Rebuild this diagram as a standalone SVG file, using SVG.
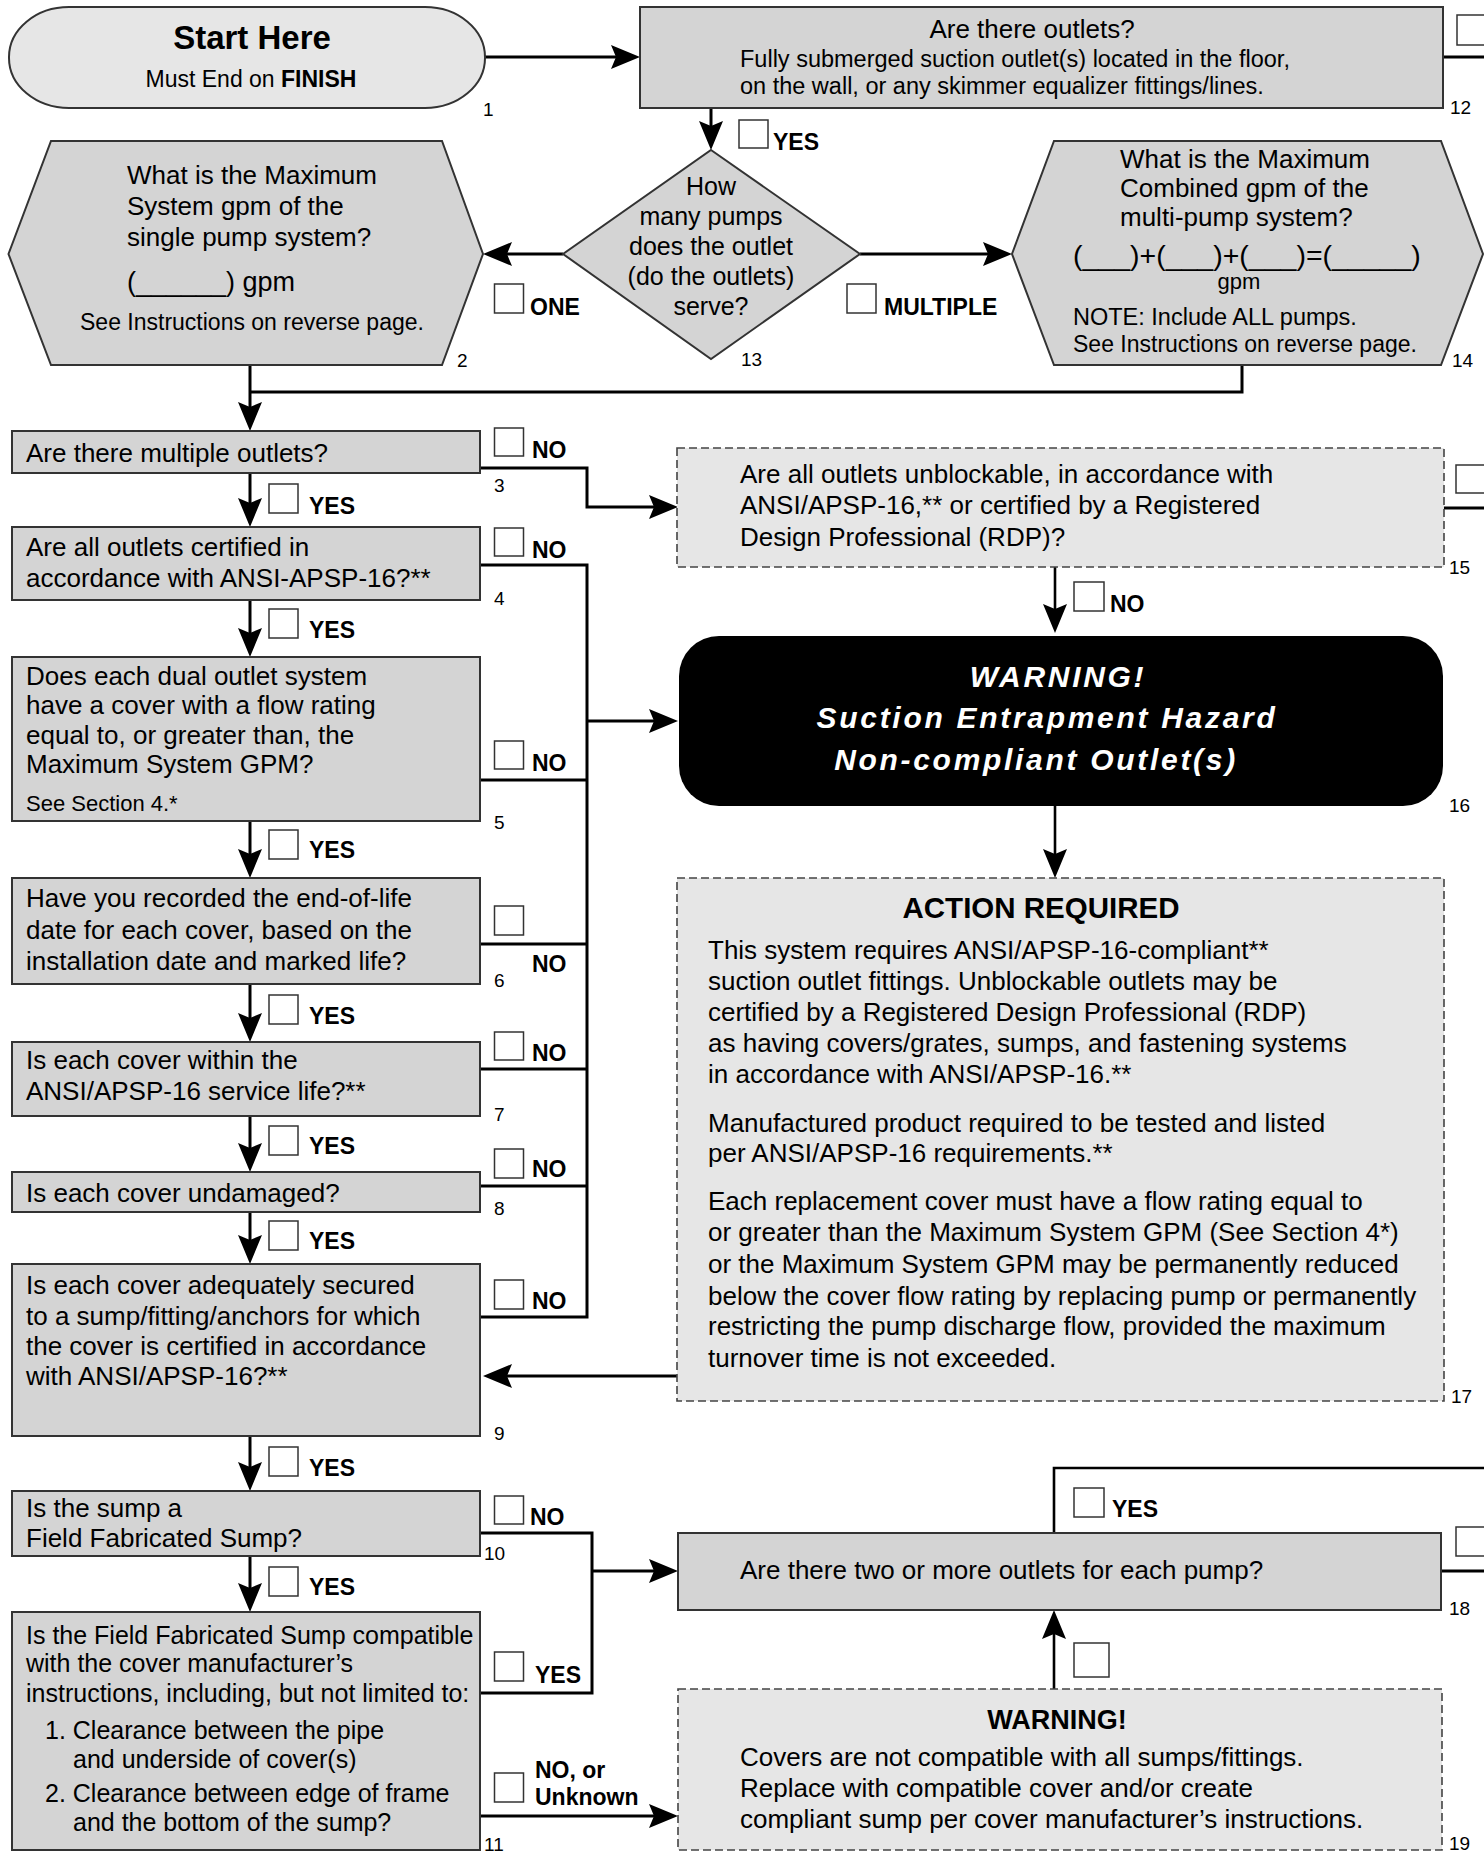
<svg xmlns="http://www.w3.org/2000/svg" width="1484" height="1852" viewBox="0 0 1484 1852">
<defs>
<marker id="ah" markerUnits="userSpaceOnUse" markerWidth="30" markerHeight="24" refX="24" refY="12" orient="auto"><path d="M0,0 L29,12 L0,24 L5,12 Z" fill="#000"/></marker>
<style>
.box{fill:#d4d4d4;stroke:#333;stroke-width:2}
.light{fill:#e6e6e6;stroke:#444;stroke-width:1.6;stroke-dasharray:8 4}
.cb{fill:#fff;stroke:#333;stroke-width:1.5}
text{font-family:"Liberation Sans",Arial,Helvetica,sans-serif;fill:#000}
.t{font-size:26px}
.t25{font-size:25px}
.s{font-size:23.5px}
.lbl{font-size:23px;font-weight:bold}
.num{font-size:19px}
.conn{fill:none;stroke:#000;stroke-width:3}
.thin{fill:none;stroke:#000;stroke-width:2.6}
.wt{fill:#fff;font-weight:bold;font-style:italic;font-size:30px;letter-spacing:2.7px}
</style>
</defs>
<rect width="1484" height="1852" fill="#fff"/>

<g id="connectors">
<path class="conn" d="M485,57 H635" marker-end="url(#ah)"/>
<path class="conn" d="M1443,57 H1484"/>
<path class="conn" d="M711,108 V145" marker-end="url(#ah)"/>
<path class="conn" d="M563,254 H488" marker-end="url(#ah)"/>
<path class="conn" d="M860,254 H1007" marker-end="url(#ah)"/>
<path class="conn" d="M1242,365 V392 H250"/>
<path class="conn" d="M250,365 V426" marker-end="url(#ah)"/>
<path class="conn" d="M250,473 V522" marker-end="url(#ah)"/>
<path class="conn" d="M480,468 H587 V507 H673" marker-end="url(#ah)"/>
<path class="conn" d="M480,565 H587 V1317 H480"/>
<path class="conn" d="M480,780 H587"/>
<path class="conn" d="M480,944 H587"/>
<path class="conn" d="M480,1069 H587"/>
<path class="conn" d="M480,1186 H587"/>
<path class="conn" d="M587,721 H673" marker-end="url(#ah)"/>
<path class="conn" d="M250,600 V652" marker-end="url(#ah)"/>
<path class="conn" d="M250,821 V873" marker-end="url(#ah)"/>
<path class="conn" d="M250,984 V1037" marker-end="url(#ah)"/>
<path class="conn" d="M250,1116 V1167" marker-end="url(#ah)"/>
<path class="conn" d="M250,1212 V1259" marker-end="url(#ah)"/>
<path class="conn" d="M250,1436 V1486" marker-end="url(#ah)"/>
<path class="conn" d="M250,1556 V1607" marker-end="url(#ah)"/>
<path class="conn" d="M480,1533 H592 V1693 H480"/>
<path class="conn" d="M592,1571 H673" marker-end="url(#ah)"/>
<path class="conn" d="M480,1816 H673" marker-end="url(#ah)"/>
<path class="conn" d="M1444,508 H1484"/>
<path class="thin" d="M1055,567 V628" marker-end="url(#ah)"/>
<path class="thin" d="M1055,806 V873" marker-end="url(#ah)"/>
<path class="conn" d="M677,1376 H488" marker-end="url(#ah)"/>
<path class="thin" d="M1054,1533 V1468 H1484"/>
<path class="conn" d="M1441,1571 H1484"/>
<path class="thin" d="M1054,1689 V1615" marker-end="url(#ah)"/>
</g>

<g id="branch-labels">
<rect class="cb" x="739" y="120" width="29" height="28"/><text class="lbl" x="773" y="150">YES</text>
<rect class="cb" x="1457" y="15" width="30" height="30"/>
<rect class="cb" x="494.5" y="284" width="29" height="29"/><text class="lbl" x="530" y="315">ONE</text>
<rect class="cb" x="847" y="284" width="29" height="29"/><text class="lbl" x="884" y="315">MULTIPLE</text>
<rect class="cb" x="494.5" y="428" width="29" height="28"/><text class="lbl" x="532" y="458">NO</text>
<rect class="cb" x="269" y="484" width="29" height="29"/><text class="lbl" x="309" y="514">YES</text>
<rect class="cb" x="494.5" y="528" width="29" height="28"/><text class="lbl" x="532" y="558">NO</text>
<rect class="cb" x="269" y="609" width="29" height="29"/><text class="lbl" x="309" y="638">YES</text>
<rect class="cb" x="494.5" y="741" width="29" height="28"/><text class="lbl" x="532" y="771">NO</text>
<rect class="cb" x="269" y="830" width="29" height="29"/><text class="lbl" x="309" y="858">YES</text>
<rect class="cb" x="494.5" y="906" width="29" height="29"/><text class="lbl" x="532" y="972">NO</text>
<rect class="cb" x="269" y="995" width="29" height="29"/><text class="lbl" x="309" y="1024">YES</text>
<rect class="cb" x="494.5" y="1032" width="29" height="28"/><text class="lbl" x="532" y="1061">NO</text>
<rect class="cb" x="269" y="1126" width="29" height="29"/><text class="lbl" x="309" y="1154">YES</text>
<rect class="cb" x="494.5" y="1149" width="29" height="29"/><text class="lbl" x="532" y="1177">NO</text>
<rect class="cb" x="269" y="1221" width="29" height="29"/><text class="lbl" x="309" y="1249">YES</text>
<rect class="cb" x="494.5" y="1280" width="29" height="29"/><text class="lbl" x="532" y="1309">NO</text>
<rect class="cb" x="269" y="1447" width="29" height="29"/><text class="lbl" x="309" y="1476">YES</text>
<rect class="cb" x="494.5" y="1496" width="29" height="28"/><text class="lbl" x="530" y="1525">NO</text>
<rect class="cb" x="269" y="1567" width="29" height="29"/><text class="lbl" x="309" y="1595">YES</text>
<rect class="cb" x="494.5" y="1652" width="29" height="29"/><text class="lbl" x="535" y="1683">YES</text>
<rect class="cb" x="494.5" y="1773" width="29" height="29"/><text class="lbl" x="535" y="1778">NO, or</text><text class="lbl" x="535" y="1805">Unknown</text>
<rect class="cb" x="1456" y="465" width="30" height="28"/>
<rect class="cb" x="1074" y="582" width="30" height="29"/><text class="lbl" x="1110" y="612">NO</text>
<rect class="cb" x="1074" y="1488" width="30" height="29"/><text class="lbl" x="1112" y="1517">YES</text>
<rect class="cb" x="1456" y="1527" width="30" height="29"/>
<rect class="cb" x="1074" y="1643" width="35" height="34"/>
</g>

<g id="n1">
<rect x="9" y="7" width="476" height="101" rx="60" ry="50" fill="#e6e6e6" stroke="#333" stroke-width="2"/>
<text x="252" y="49" text-anchor="middle" font-size="33" font-weight="bold">Start Here</text>
<text x="251" y="87" text-anchor="middle" font-size="23">Must End on <tspan font-weight="bold">FINISH</tspan></text>
<text class="num" x="483" y="116">1</text>
</g>

<g id="n12">
<rect class="box" x="640" y="7" width="803" height="101"/>
<text class="t" x="1032" y="38" text-anchor="middle">Are there outlets?</text>
<text class="s" x="740" y="67">Fully submerged suction outlet(s) located in the floor,</text>
<text class="s" x="740" y="94">on the wall, or any skimmer equalizer fittings/lines.</text>
<text class="num" x="1450" y="114">12</text>
</g>

<g id="n13">
<polygon class="box" points="711,150 860,254 711,359 563,254"/>
<text x="711" y="195" text-anchor="middle" font-size="25">How</text>
<text x="711" y="225" text-anchor="middle" font-size="25">many pumps</text>
<text x="711" y="255" text-anchor="middle" font-size="25">does the outlet</text>
<text x="711" y="285" text-anchor="middle" font-size="25">(do the outlets)</text>
<text x="711" y="315" text-anchor="middle" font-size="25">serve?</text>
<text class="num" x="741" y="366">13</text>
</g>

<g id="n2">
<polygon class="box" points="51,141 442,141 483,254 442,365 51,365 8.5,254"/>
<text class="t" x="127" y="184">What is the Maximum</text>
<text class="t" x="127" y="215">System gpm of the</text>
<text class="t" x="127" y="246">single pump system?</text>
<text x="127" y="291" font-size="27">(______) gpm</text>
<text x="80" y="330" font-size="23">See Instructions on reverse page.</text>
<text class="num" x="457" y="367">2</text>
</g>

<g id="n14">
<polygon class="box" points="1054,141 1441,141 1483,254 1441,365 1054,365 1012,254"/>
<text class="t" x="1120" y="168">What is the Maximum</text>
<text class="t" x="1120" y="197">Combined gpm of the</text>
<text class="t" x="1120" y="226">multi-pump system?</text>
<text x="1073" y="265" font-size="28.5">(___)+(___)+(___)=(_____)</text>
<text x="1239" y="289" text-anchor="middle" font-size="22">gpm</text>
<text class="s" x="1073" y="325">NOTE: Include ALL pumps.</text>
<text x="1073" y="352" font-size="23">See Instructions on reverse page.</text>
<text class="num" x="1452" y="367">14</text>
</g>

<g id="n3">
<rect class="box" x="12" y="431" width="468" height="42"/>
<text class="t" x="26" y="462">Are there multiple outlets?</text>
<text class="num" x="494" y="492">3</text>
</g>

<g id="n4">
<rect class="box" x="12" y="527" width="468" height="73"/>
<text class="t" x="26" y="556">Are all outlets certified in</text>
<text class="t" x="26" y="587">accordance with ANSI-APSP-16?**</text>
<text class="num" x="494" y="605">4</text>
</g>

<g id="n5">
<rect class="box" x="12" y="657" width="468" height="164"/>
<text class="t" x="26" y="685">Does each dual outlet system</text>
<text class="t" x="26" y="714">have a cover with a flow rating</text>
<text class="t" x="26" y="744">equal to, or greater than, the</text>
<text class="t" x="26" y="773">Maximum System GPM?</text>
<text x="26" y="811" font-size="22">See Section 4.*</text>
<text class="num" x="494" y="829">5</text>
</g>

<g id="n6">
<rect class="box" x="12" y="878" width="468" height="106"/>
<text class="t" x="26" y="907">Have you recorded the end-of-life</text>
<text class="t" x="26" y="939">date for each cover, based on the</text>
<text class="t" x="26" y="970">installation date and marked life?</text>
<text class="num" x="494" y="987">6</text>
</g>

<g id="n7">
<rect class="box" x="12" y="1042" width="468" height="74"/>
<text class="t" x="26" y="1069">Is each cover within the</text>
<text class="t" x="26" y="1100">ANSI/APSP-16 service life?**</text>
<text class="num" x="494" y="1121">7</text>
</g>

<g id="n8">
<rect class="box" x="12" y="1172" width="468" height="40"/>
<text class="t" x="26" y="1202">Is each cover undamaged?</text>
<text class="num" x="494" y="1215">8</text>
</g>

<g id="n9">
<rect class="box" x="12" y="1264" width="468" height="172"/>
<text class="t" x="26" y="1294">Is each cover adequately secured</text>
<text class="t" x="26" y="1325">to a sump/fitting/anchors for which</text>
<text class="t" x="26" y="1355">the cover is certified in accordance</text>
<text class="t" x="26" y="1385">with ANSI/APSP-16?**</text>
<text class="num" x="494" y="1440">9</text>
</g>

<g id="n10">
<rect class="box" x="12" y="1491" width="468" height="65"/>
<text class="t" x="26" y="1517">Is the sump a</text>
<text class="t" x="26" y="1547">Field Fabricated Sump?</text>
<text class="num" x="484" y="1560">10</text>
</g>

<g id="n11">
<rect class="box" x="12" y="1612" width="468" height="238"/>
<text class="t25" x="26" y="1644">Is the Field Fabricated Sump compatible</text>
<text class="t25" x="26" y="1672">with the cover manufacturer’s</text>
<text class="t25" x="26" y="1702">instructions, including, but not limited to:</text>
<text class="t25" x="45" y="1739">1. Clearance between the pipe</text>
<text class="t25" x="73" y="1768">and underside of cover(s)</text>
<text class="t25" x="45" y="1802">2. Clearance between edge of frame</text>
<text class="t25" x="73" y="1831">and the bottom of the sump?</text>
<text class="num" x="484" y="1851">11</text>
</g>

<g id="n15">
<rect class="light" x="677" y="448" width="767" height="119"/>
<text class="t" x="740" y="483">Are all outlets unblockable, in accordance with</text>
<text class="t" x="740" y="514">ANSI/APSP-16,** or certified by a Registered</text>
<text class="t" x="740" y="546">Design Professional (RDP)?</text>
<text class="num" x="1449" y="574">15</text>
</g>

<g id="n16">
<rect x="679" y="636" width="764" height="170" rx="40" ry="40" fill="#000"/>
<text class="wt" x="1058" y="687" text-anchor="middle">WARNING!</text>
<text class="wt" x="1047" y="728" text-anchor="middle">Suction Entrapment Hazard</text>
<text class="wt" x="1036" y="770" text-anchor="middle">Non-compliant Outlet(s)</text>
<text class="num" x="1449" y="812">16</text>
</g>

<g id="n17">
<rect class="light" x="677" y="878" width="767" height="523"/>
<text x="1041" y="918" text-anchor="middle" font-size="29.5" font-weight="bold">ACTION REQUIRED</text>
<text class="t" x="708" y="959">This system requires ANSI/APSP-16-compliant**</text>
<text class="t" x="708" y="990">suction outlet fittings. Unblockable outlets may be</text>
<text class="t" x="708" y="1021">certified by a Registered Design Professional (RDP)</text>
<text class="t" x="708" y="1052">as having covers/grates, sumps, and fastening systems</text>
<text class="t" x="708" y="1083">in accordance with ANSI/APSP-16.**</text>
<text class="t" x="708" y="1132">Manufactured product required to be tested and listed</text>
<text class="t" x="708" y="1162">per ANSI/APSP-16 requirements.**</text>
<text class="t" x="708" y="1210">Each replacement cover must have a flow rating equal to</text>
<text class="t" x="708" y="1241">or greater than the Maximum System GPM (See Section 4*)</text>
<text class="t" x="708" y="1273">or the Maximum System GPM may be permanently reduced</text>
<text class="t" x="708" y="1305">below the cover flow rating by replacing pump or permanently</text>
<text class="t" x="708" y="1335">restricting the pump discharge flow, provided the maximum</text>
<text class="t" x="708" y="1367">turnover time is not exceeded.</text>
<text class="num" x="1451" y="1403">17</text>
</g>

<g id="n18">
<rect class="box" x="678" y="1533" width="763" height="77"/>
<text class="t" x="740" y="1579">Are there two or more outlets for each pump?</text>
<text class="num" x="1449" y="1615">18</text>
</g>

<g id="n19">
<rect class="light" x="678" y="1689" width="764" height="161"/>
<text x="1057" y="1729" text-anchor="middle" font-size="27" font-weight="bold">WARNING!</text>
<text class="t" x="740" y="1766">Covers are not compatible with all sumps/fittings.</text>
<text class="t" x="740" y="1797">Replace with compatible cover and/or create</text>
<text class="t" x="740" y="1828">compliant sump per cover manufacturer’s instructions.</text>
<text class="num" x="1449" y="1850">19</text>
</g>
</svg>
